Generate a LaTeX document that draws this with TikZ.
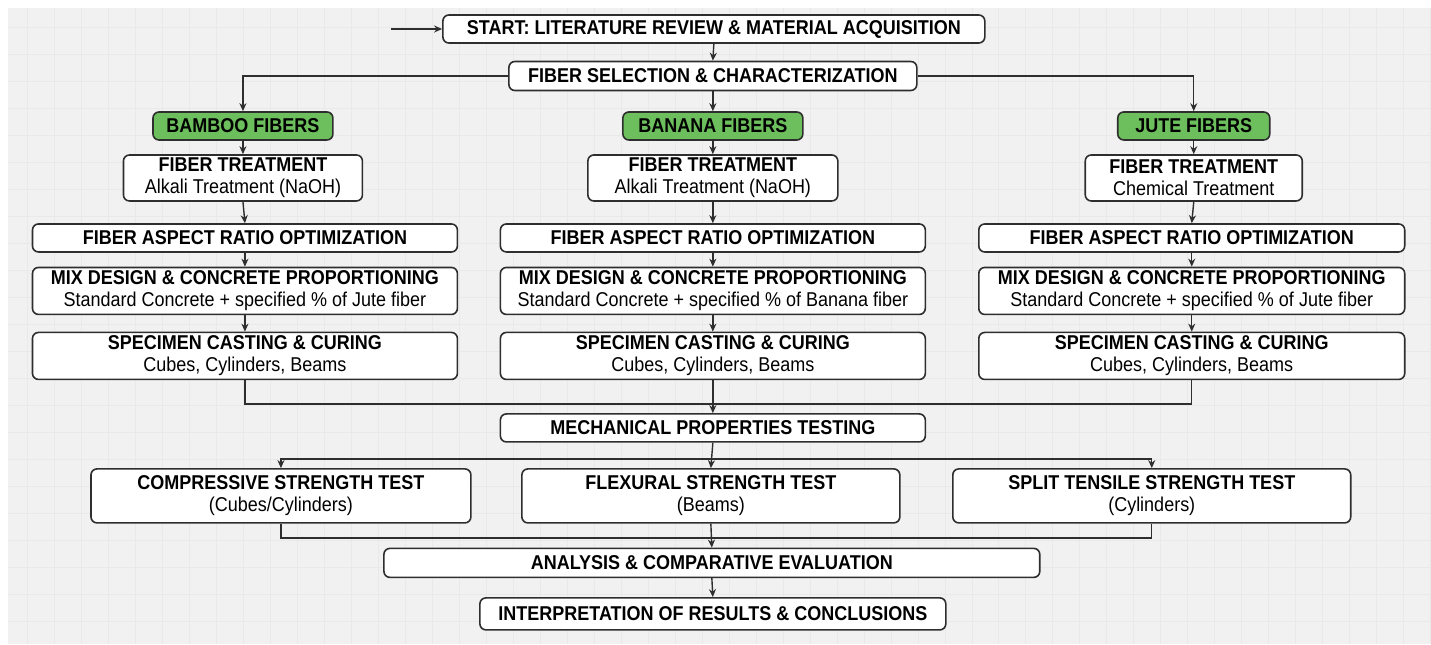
\documentclass[tikz,border=0pt]{standalone}
\usepackage{fontspec}
\setmainfont{Liberation Sans}[FakeStretch=0.9]
\usetikzlibrary{arrows.meta}
\definecolor{bgray}{HTML}{F1F1F1}
\definecolor{gridc}{HTML}{E9E9E9}
\definecolor{fibergreen}{HTML}{6CBF5C}
\definecolor{edge}{HTML}{2E2E2E}
\begin{document}
\begin{tikzpicture}[x=0.5pt,y=-0.5pt,
    box/.style={draw=edge,line width=0.8pt,rounded corners=3pt,fill=white,
        align=center,inner sep=1pt,font=\fontsize{10}{11}\selectfont},
    fiber/.style={box,fill=fibergreen},
    flow/.style={draw=edge,line width=0.7pt,-{Stealth[length=4pt,width=3.5pt]}},
    merge/.style={draw=edge,line width=0.7pt}]
    % background
    \fill[white] (0,0) rectangle (1431,644);
    \fill[bgray] (8,8) rectangle (1431,644);
    \draw[gridc,line width=0.3pt,step=13.5pt] (8,8) grid (1431,644);
    \useasboundingbox (0,0) rectangle (1431,644);

    \node[box,minimum width=271pt,minimum height=14pt] (start) at (714,29)
        {\textbf{START: LITERATURE REVIEW \& MATERIAL ACQUISITION}};
    \node[box,minimum width=204pt,minimum height=14.5pt] (sel) at (713,76)
        {\textbf{FIBER SELECTION \& CHARACTERIZATION}};

    \node[fiber,minimum width=90pt,minimum height=14pt] (bamboo) at (243,126) {\textbf{BAMBOO FIBERS}};
    \node[fiber,minimum width=90pt,minimum height=14pt] (banana) at (713,126) {\textbf{BANANA FIBERS}};
    \node[fiber,minimum width=76pt,minimum height=14pt] (jute) at (1194,126) {\textbf{JUTE FIBERS}};

    % bamboo column
    \node[box,minimum width=119.5pt,minimum height=23pt] (treatA) at (243,178)
        {\textbf{FIBER TREATMENT}\\Alkali Treatment (NaOH)};
    \node[box,minimum width=212.5pt,minimum height=14pt] (ratioA) at (245,238)
        {\textbf{FIBER ASPECT RATIO OPTIMIZATION}};
    \node[box,minimum width=212.5pt,minimum height=23.5pt] (mixA) at (245,291)
        {\textbf{MIX DESIGN \& CONCRETE PROPORTIONING}\\Standard Concrete + specified \% of Jute fiber};
    \node[box,minimum width=212.5pt,minimum height=23.5pt] (castA) at (245,356)
        {\textbf{SPECIMEN CASTING \& CURING}\\Cubes, Cylinders, Beams};

    % banana column
    \node[box,minimum width=125pt,minimum height=23pt] (treatB) at (713,178)
        {\textbf{FIBER TREATMENT}\\Alkali Treatment (NaOH)};
    \node[box,minimum width=212.5pt,minimum height=14pt] (ratioB) at (713,238)
        {\textbf{FIBER ASPECT RATIO OPTIMIZATION}};
    \node[box,minimum width=212.5pt,minimum height=23.5pt] (mixB) at (713,291)
        {\textbf{MIX DESIGN \& CONCRETE PROPORTIONING}\\Standard Concrete + specified \% of Banana fiber};
    \node[box,minimum width=212.5pt,minimum height=23.5pt] (castB) at (713,356)
        {\textbf{SPECIMEN CASTING \& CURING}\\Cubes, Cylinders, Beams};

    % jute column
    \node[box,minimum width=108.5pt,minimum height=23pt] (treatC) at (1194,178)
        {\textbf{FIBER TREATMENT}\\Chemical Treatment};
    \node[box,minimum width=213pt,minimum height=14pt] (ratioC) at (1192,238)
        {\textbf{FIBER ASPECT RATIO OPTIMIZATION}};
    \node[box,minimum width=213pt,minimum height=23.5pt] (mixC) at (1192,291)
        {\textbf{MIX DESIGN \& CONCRETE PROPORTIONING}\\Standard Concrete + specified \% of Jute fiber};
    \node[box,minimum width=213pt,minimum height=23.5pt] (castC) at (1192,356)
        {\textbf{SPECIMEN CASTING \& CURING}\\Cubes, Cylinders, Beams};

    \node[box,minimum width=212.5pt,minimum height=14pt] (mech) at (713,428)
        {\textbf{MECHANICAL PROPERTIES TESTING}};

    \node[box,minimum width=190pt,minimum height=27pt] (comp) at (281,496)
        {\textbf{COMPRESSIVE STRENGTH TEST}\\(Cubes/Cylinders)};
    \node[box,minimum width=189pt,minimum height=27pt] (flex) at (711,496)
        {\textbf{FLEXURAL STRENGTH TEST}\\(Beams)};
    \node[box,minimum width=199pt,minimum height=27pt] (split) at (1152,496)
        {\textbf{SPLIT TENSILE STRENGTH TEST}\\(Cylinders)};

    \node[box,minimum width=328pt,minimum height=14.5pt] (anal) at (712,563)
        {\textbf{ANALYSIS \& COMPARATIVE EVALUATION}};
    \node[box,minimum width=233pt,minimum height=16pt] (interp) at (713,614)
        {\textbf{INTERPRETATION OF RESULTS \& CONCLUSIONS}};

    \coordinate (in) at (391,29);
    \coordinate (j1) at (713,404);
    \coordinate (j2) at (713,459);
    \coordinate (j3) at (713,538);

    \draw[flow] (in) -- (start.west);
    \draw[flow] (start.south) -- (sel.north);
    \draw[flow] (sel.west) -| (bamboo.north);
    \draw[flow] (sel.south) -- (banana.north);
    \draw[flow] (sel.east) -| (jute.north);

    \foreach \c in {A,B,C} {
        \draw[flow] (treat\c.south) -- (ratio\c.north);
        \draw[flow] (ratio\c.south) -- (mix\c.north);
        \draw[flow] (mix\c.south) -- (cast\c.north);
    }
    \draw[flow] (bamboo.south) -- (treatA.north);
    \draw[flow] (banana.south) -- (treatB.north);
    \draw[flow] (jute.south) -- (treatC.north);

    \draw[merge] (castA.south) |- (j1);
    \draw[merge] (castC.south) |- (j1);
    \draw[flow] (castB.south) -- (mech.north);

    \draw[flow] (mech.south) -- (flex.north);
    \draw[flow] (j2) -| (comp.north);
    \draw[flow] (j2) -| (split.north);

    \draw[merge] (comp.south) |- (j3);
    \draw[merge] (split.south) |- (j3);
    \draw[flow] (flex.south) -- (anal.north);
    \draw[flow] (anal.south) -- (interp.north);
\end{tikzpicture}
\end{document}
